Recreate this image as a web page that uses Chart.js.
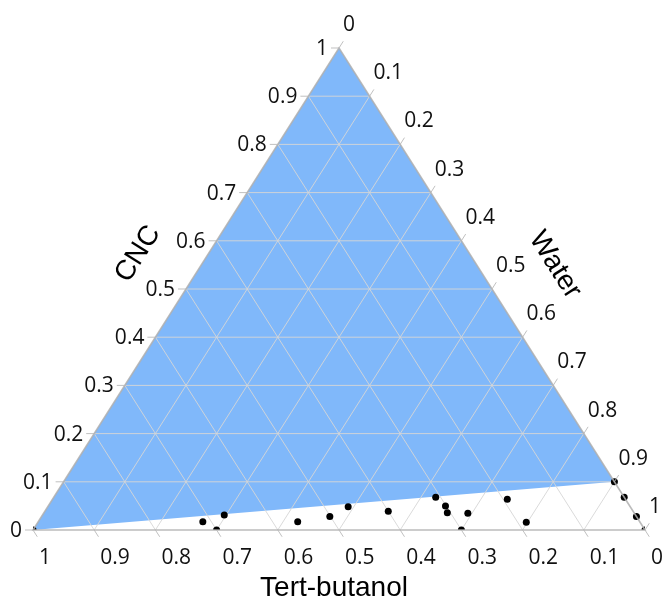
<!DOCTYPE html>
<html>
<head>
<meta charset="utf-8">
<script src="https://cdn.jsdelivr.net/npm/chart.js@4/dist/chart.umd.min.js"></script>
<style>
html,body{margin:0;padding:0;background:#fff;}
canvas{display:block;}
</style>
</head>
<body>
<canvas id="c" width="664" height="599"></canvas>
<script>
// Axis ticks
const tickValues = [0, 0.1, 0.2, 0.3, 0.4, 0.5, 0.6, 0.7, 0.8, 0.9, 1];
const tickLabels = ['0', '0.1', '0.2', '0.3', '0.4', '0.5', '0.6', '0.7', '0.8', '0.9', '1'];
const axisTitles = ['CNC', 'Water', 'Tert-butanol'];

// Shaded (blue) region, ternary vertices
const regionCNC   = [0, 1, 0.1];
const regionWater = [0, 0, 0.9];
const regionTert  = [1, 0, 0];

// Measured compositions (black dots)
const dotCNC   = [0, 0.017, 0, 0.031, 0.017, 0.028, 0.048, 0.039, 0.068, 0.050, 0.036, 0, 0.035, 0.064, 0.016, 0.100, 0.068, 0.028, 0];
const dotWater = [0, 0.269, 0.300, 0.297, 0.424, 0.471, 0.491, 0.561, 0.624, 0.649, 0.659, 0.700, 0.693, 0.743, 0.798, 0.900, 0.932, 0.972, 1];
const dotTert  = [1, 0.714, 0.700, 0.672, 0.559, 0.501, 0.461, 0.400, 0.308, 0.301, 0.305, 0.300, 0.272, 0.193, 0.186, 0, 0, 0, 0];

// ternary -> cartesian (x,y) in [0,1]
function tern(c, w) { return { x: w + c / 2, y: c }; }

const dotData = dotCNC.map((c, i) => tern(c, dotWater[i]));

const ternaryPlugin = {
  id: 'ternary',
  beforeDatasetsDraw(chart) {
    const ctx = chart.ctx, xs = chart.scales.x, ys = chart.scales.y;
    const P = (c, w) => { const p = tern(c, w); return [xs.getPixelForValue(p.x), ys.getPixelForValue(p.y)]; };
    ctx.save();
    // blue region
    ctx.beginPath();
    regionCNC.forEach((c, i) => {
      const [px, py] = P(c, regionWater[i]);
      if (i === 0) ctx.moveTo(px, py); else ctx.lineTo(px, py);
    });
    ctx.closePath();
    ctx.fillStyle = '#80B8FA';
    ctx.fill();
    // grid lines
    ctx.strokeStyle = 'rgba(214,214,214,0.9)';
    ctx.lineWidth = 1;
    tickValues.forEach(v => {
      if (v === 0 || v === 1) return;
      let a, b;
      // constant CNC
      a = P(v, 0); b = P(v, 1 - v);
      ctx.beginPath(); ctx.moveTo(a[0], a[1]); ctx.lineTo(b[0], b[1]); ctx.stroke();
      // constant Water
      a = P(0, v); b = P(1 - v, v);
      ctx.beginPath(); ctx.moveTo(a[0], a[1]); ctx.lineTo(b[0], b[1]); ctx.stroke();
      // constant Tert-butanol
      a = P(0, 1 - v); b = P(1 - v, 0);
      ctx.beginPath(); ctx.moveTo(a[0], a[1]); ctx.lineTo(b[0], b[1]); ctx.stroke();
    });
    ctx.restore();
  },
  afterDatasetsDraw(chart) {
    const ctx = chart.ctx, xs = chart.scales.x, ys = chart.scales.y;
    const P = (c, w) => { const p = tern(c, w); return [xs.getPixelForValue(p.x), ys.getPixelForValue(p.y)]; };
    const A = P(0, 0), B = P(1, 0), C = P(0, 1);
    ctx.save();
    // edges
    ctx.strokeStyle = 'rgba(175,175,175,0.85)';
    ctx.lineWidth = 1.6;
    ctx.beginPath(); ctx.moveTo(A[0], A[1]); ctx.lineTo(B[0], B[1]); ctx.lineTo(C[0], C[1]); ctx.closePath(); ctx.stroke();
    // tick directions
    const dx = B[0] - A[0], dy = B[1] - A[1];
    const len = Math.hypot(dx, dy);
    const ux = dx / len, uy = dy / len; // up-right along left edge
    const TL = 8;
    ctx.strokeStyle = 'rgba(185,185,185,0.9)';
    ctx.lineWidth = 1;
    ctx.fillStyle = '#111';
    ctx.font = '21px "Open Sans", "Noto Sans", sans-serif';
    tickValues.forEach((v, i) => {
      const lab = tickLabels[i];
      // CNC on left edge
      let p = P(v, 0);
      ctx.beginPath(); ctx.moveTo(p[0], p[1]); ctx.lineTo(p[0] - TL, p[1]); ctx.stroke();
      ctx.textAlign = 'right'; ctx.textBaseline = 'middle';
      ctx.fillText(lab, p[0] - 11, p[1] + 1);
      // Water on right edge
      p = P(1 - v, v);
      ctx.beginPath(); ctx.moveTo(p[0], p[1]); ctx.lineTo(p[0] + ux * TL, p[1] + uy * TL); ctx.stroke();
      ctx.textAlign = 'left'; ctx.textBaseline = 'middle';
      ctx.fillText(lab, p[0] + 4, p[1] - 23);
      // Tert-butanol on bottom edge
      p = P(0, 1 - v);
      ctx.beginPath(); ctx.moveTo(p[0], p[1]); ctx.lineTo(p[0] + ux * TL, p[1] - uy * TL); ctx.stroke();
      ctx.textAlign = 'left'; ctx.textBaseline = 'middle';
      ctx.fillText(lab, p[0] + 6, p[1] + 28);
    });
    // axis titles
    const ang = Math.atan2(-dy, dx);
    ctx.fillStyle = '#000';
    ctx.font = '28px "Liberation Sans", Arial, sans-serif';
    ctx.textAlign = 'center'; ctx.textBaseline = 'middle';
    let m = P(0.5, 0);
    ctx.save(); ctx.translate(m[0] - 14 - 56 * Math.sin(ang) * 0 , m[1]);
    ctx.restore();
    ctx.save(); ctx.translate(138, 254); ctx.rotate(-ang); ctx.fillText(axisTitles[0], 0, 0); ctx.restore();
    ctx.save(); ctx.translate(555, 265); ctx.rotate(ang); ctx.fillText(axisTitles[1], 0, 0); ctx.restore();
    const bm = P(0, 0.5);
    ctx.textBaseline = 'alphabetic';
    ctx.fillText(axisTitles[2], bm[0] - 5, 596);
    ctx.restore();
  }
};

new Chart(document.getElementById('c'), {
  type: 'scatter',
  data: {
    datasets: [{
      data: dotData,
      pointRadius: 3.5,
      pointHoverRadius: 3.5,
      backgroundColor: '#000',
      borderColor: '#000',
      borderWidth: 0
    }]
  },
  options: {
    responsive: false,
    animation: false,
    devicePixelRatio: 1,
    layout: { padding: { left: 33, right: 19, top: 48, bottom: 69 } },
    scales: {
      x: { type: 'linear', min: 0, max: 1, display: false },
      y: { type: 'linear', min: 0, max: 1, display: false }
    },
    plugins: { legend: { display: false }, tooltip: { enabled: false } },
    events: []
  },
  plugins: [ternaryPlugin]
});
</script>
</body>
</html>
